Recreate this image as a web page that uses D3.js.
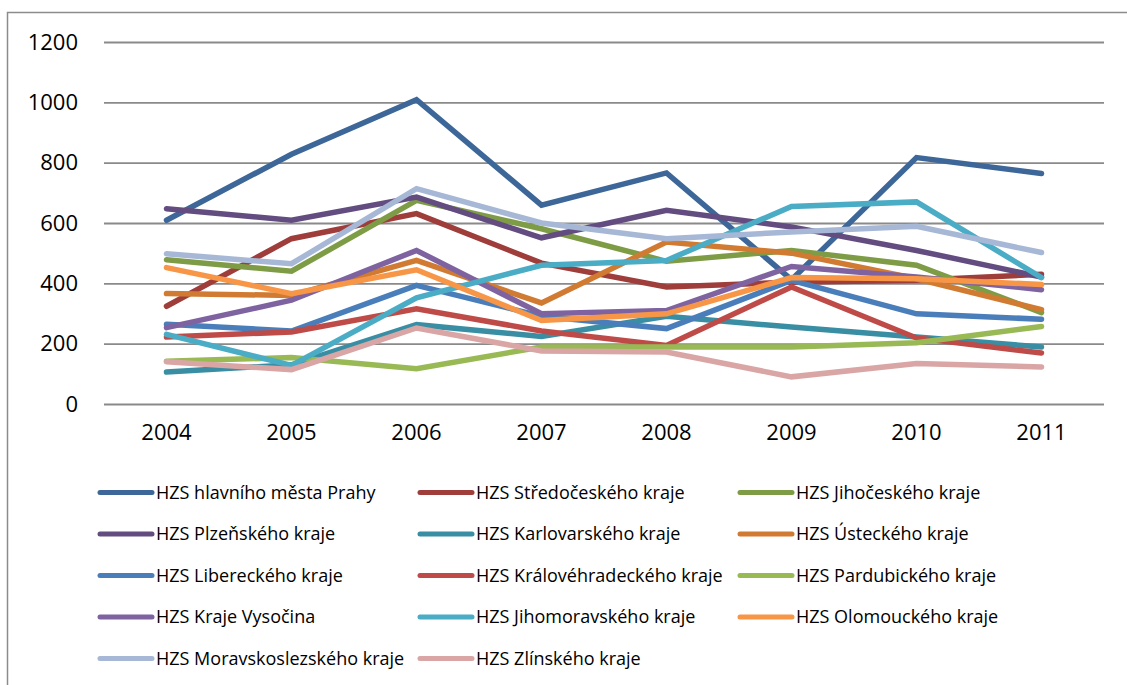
<!DOCTYPE html>
<html>
<head>
<meta charset="utf-8">
<script src="https://cdn.jsdelivr.net/npm/d3@7"></script>
<style>
  html, body { margin: 0; padding: 0; background: #fff; }
  svg { display: block; }
  text { font-family: "Open Sans", "Noto Sans", sans-serif; fill: #000; }
</style>
</head>
<body>
<svg id="chart" width="1127" height="685"></svg>
<script>
const years = ["2004", "2005", "2006", "2007", "2008", "2009", "2010", "2011"];
const yTicks = [0, 200, 400, 600, 800, 1000, 1200];

const seriesNames = [
  "HZS hlavního města Prahy",
  "HZS Středočeského kraje",
  "HZS Jihočeského kraje",
  "HZS Plzeňského kraje",
  "HZS Karlovarského kraje",
  "HZS Ústeckého kraje",
  "HZS Libereckého kraje",
  "HZS Královéhradeckého kraje",
  "HZS Pardubického kraje",
  "HZS Kraje Vysočina",
  "HZS Jihomoravského kraje",
  "HZS Olomouckého kraje",
  "HZS Moravskoslezského kraje",
  "HZS Zlínského kraje"
];

const seriesColors = [
  "#3c6798", "#9e3d3a", "#7e9c45", "#634c80", "#398ea3", "#d17b32", "#4a7ebb",
  "#be4b48", "#98b954", "#7f63a1", "#4bacc6", "#f79646", "#a6b8d6", "#d9a6a5"
];

const praha           = [609, 828, 1009, 659, 766, 412, 817, 764];
const stredocesky     = [324, 548, 631, 467, 388, 404, 410, 430];
const jihocesky       = [478, 440, 675, 581, 473, 509, 460, 303];
const plzensky        = [647, 609, 686, 551, 642, 587, 509, 421];
const karlovarsky     = [106, 130, 263, 224, 291, 255, 222, 189];
const ustecky         = [366, 360, 476, 335, 537, 500, 415, 313];
const liberecky       = [264, 242, 393, 291, 250, 410, 299, 281];
const kralovehradecky = [222, 239, 316, 242, 194, 388, 219, 169];
const pardubicky      = [142, 154, 117, 189, 189, 189, 203, 257];
const vysocina        = [253, 344, 509, 299, 310, 456, 421, 379];
const jihomoravsky    = [231, 128, 352, 460, 476, 655, 670, 419];
const olomoucky       = [452, 366, 445, 277, 299, 419, 415, 396];
const moravskoslezsky = [498, 465, 714, 600, 548, 570, 589, 502];
const zlinsky         = [140, 114, 252, 176, 172, 90, 134, 123];

const seriesValues = [
  praha, stredocesky, jihocesky, plzensky, karlovarsky, ustecky, liberecky,
  kralovehradecky, pardubicky, vysocina, jihomoravsky, olomoucky, moravskoslezsky, zlinsky
];

const svg = d3.select("#chart");

// outer chart border
svg.append("rect")
  .attr("x", 7.5).attr("y", 12.5)
  .attr("width", 1140).attr("height", 700)
  .attr("fill", "none").attr("stroke", "#8c8c8c").attr("stroke-width", 1.5);

const plot = { left: 104, right: 1104, top: 42, bottom: 404 };

const x = d3.scaleBand().domain(years).range([plot.left, plot.right]).padding(0);
const y = d3.scaleLinear().domain([0, 1200]).range([plot.bottom, plot.top]);

// gridlines
const yAxis = d3.axisLeft(y).tickValues(yTicks).tickSize(-(plot.right - plot.left)).tickPadding(26).tickFormat(d3.format("d"));
const gy = svg.append("g").attr("transform", `translate(${plot.left},0)`).call(yAxis);
gy.select(".domain").remove();
gy.selectAll(".tick line").attr("stroke", "#8a8a8a").attr("stroke-width", 1.8);
gy.selectAll(".tick text").attr("font-size", 22).attr("font-family", "Open Sans, sans-serif").attr("fill", "#000");

// x axis labels
const xAxis = d3.axisBottom(x).tickSize(0).tickPadding(20);
const gx = svg.append("g").attr("transform", `translate(0,${plot.bottom})`).call(xAxis);
gx.select(".domain").remove();
gx.selectAll(".tick text").attr("font-size", 22).attr("font-family", "Open Sans, sans-serif").attr("fill", "#000");

// lines
const line = d3.line()
  .x((d, i) => x(years[i]) + x.bandwidth() / 2)
  .y(d => y(d));

seriesValues.forEach((vals, si) => {
  svg.append("path")
    .datum(vals)
    .attr("d", line)
    .attr("fill", "none")
    .attr("stroke", seriesColors[si])
    .attr("stroke-width", 5.5)
    .attr("stroke-linecap", "round")
    .attr("stroke-linejoin", "miter");
});

// legend
const legendCols = [98, 418, 738];
const legendRowY = d3.scaleLinear().domain([0, 4]).range([492.5, 658.5]);
seriesNames.forEach((name, i) => {
  const col = i % 3, row = Math.floor(i / 3);
  const lx = legendCols[col], ly = legendRowY(row);
  const g = svg.append("g").attr("transform", `translate(${lx},${ly})`);
  g.append("line").attr("x1", 2).attr("x2", 54).attr("y1", 0).attr("y2", 0)
    .attr("stroke", seriesColors[i]).attr("stroke-width", 5).attr("stroke-linecap", "round");
  g.append("text").attr("x", 58).attr("y", 0).attr("dy", "0.35em")
    .attr("font-size", 18).text(name);
});
</script>
</body>
</html>
